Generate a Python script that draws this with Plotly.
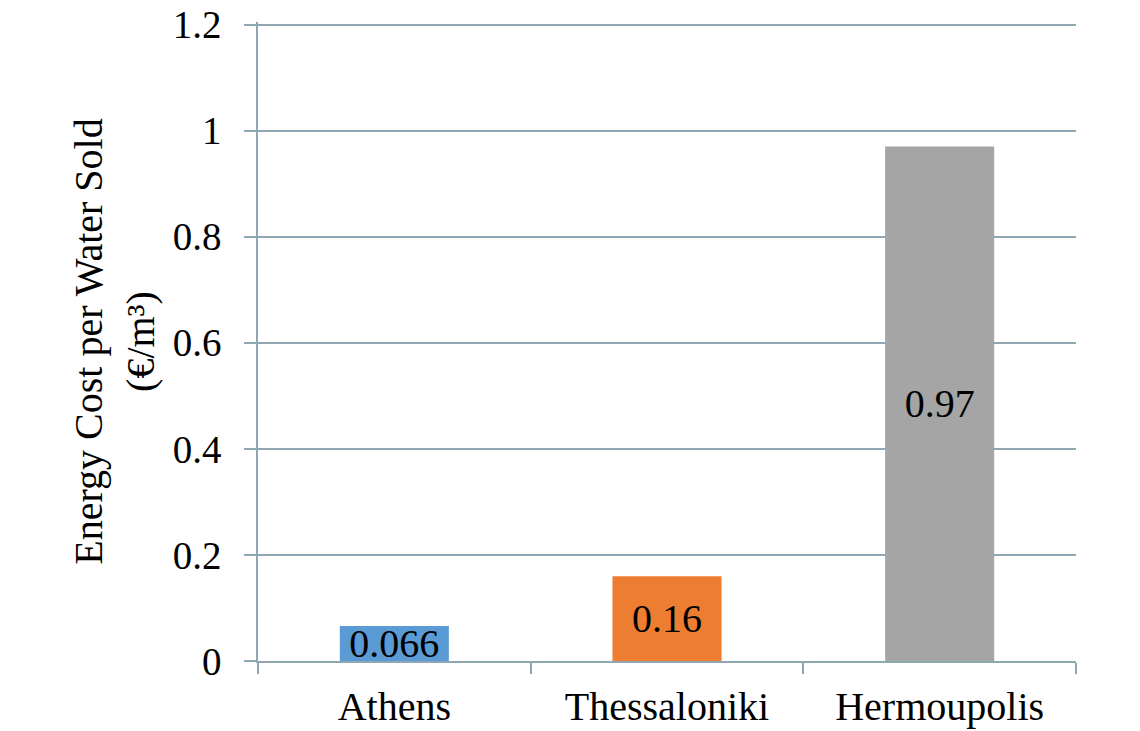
import plotly.graph_objects as go

cities = ["Athens", "Thessaloniki", "Hermoupolis"]
energy_cost = [0.066, 0.16, 0.97]
value_labels = ["0.066", "0.16", "0.97"]
bar_colors = ["#5B9BD5", "#ED7D31", "#A5A5A5"]
y_tickvals = [0, 0.2, 0.4, 0.6, 0.8, 1.0, 1.2]
y_ticktext = ["0", "0.2", "0.4", "0.6", "0.8", "1", "1.2"]

FONT = "Liberation Serif, Times New Roman, serif"
GRID = "#8FA7B3"

fig = go.Figure()
fig.add_trace(go.Bar(
    x=cities,
    y=energy_cost,
    marker=dict(color=bar_colors, line=dict(width=0)),
    text=value_labels,
    textposition="inside",
    insidetextanchor="middle",
    textangle=0,
    constraintext="none",
    cliponaxis=False,
    textfont=dict(family=FONT, size=40, color="#000000"),
    hoverinfo="skip",
))

fig.update_layout(
    width=1140, height=731,
    margin=dict(l=258, r=64, t=22, b=70, autoexpand=False),
    paper_bgcolor="white",
    plot_bgcolor="white",
    bargap=0.6,
    showlegend=False,
    font=dict(family=FONT, color="#000000"),
)

fig.update_xaxes(
    type="category",
    showgrid=False,
    showline=True, linecolor=GRID, linewidth=1.5,
    ticks="outside", tickson="boundaries", ticklen=11, tickcolor=GRID, tickwidth=1.5,
    ticklabelstandoff=9,
    tickfont=dict(family=FONT, size=40, color="#000000"),
    automargin=False,
)

fig.update_yaxes(
    range=[0, 1.205],
    tickvals=y_tickvals, ticktext=y_ticktext,
    showgrid=True, gridcolor=GRID, gridwidth=1.5,
    showline=True, linecolor=GRID, linewidth=1.5,
    ticks="outside", ticklen=12, tickcolor=GRID, tickwidth=1.5,
    ticklabelstandoff=15,
    ticklabeloverflow="allow",
    tickfont=dict(family=FONT, size=39, color="#000000"),
    zeroline=False,
    title=dict(text="Energy Cost per Water Sold<br>(€/m³)",
               font=dict(family=FONT, size=40, color="#000000"),
               standoff=6),
    automargin=False,
)

fig.write_html("out.html", config={"displayModeBar": False},
               post_script="document.body.style.margin='0';")
